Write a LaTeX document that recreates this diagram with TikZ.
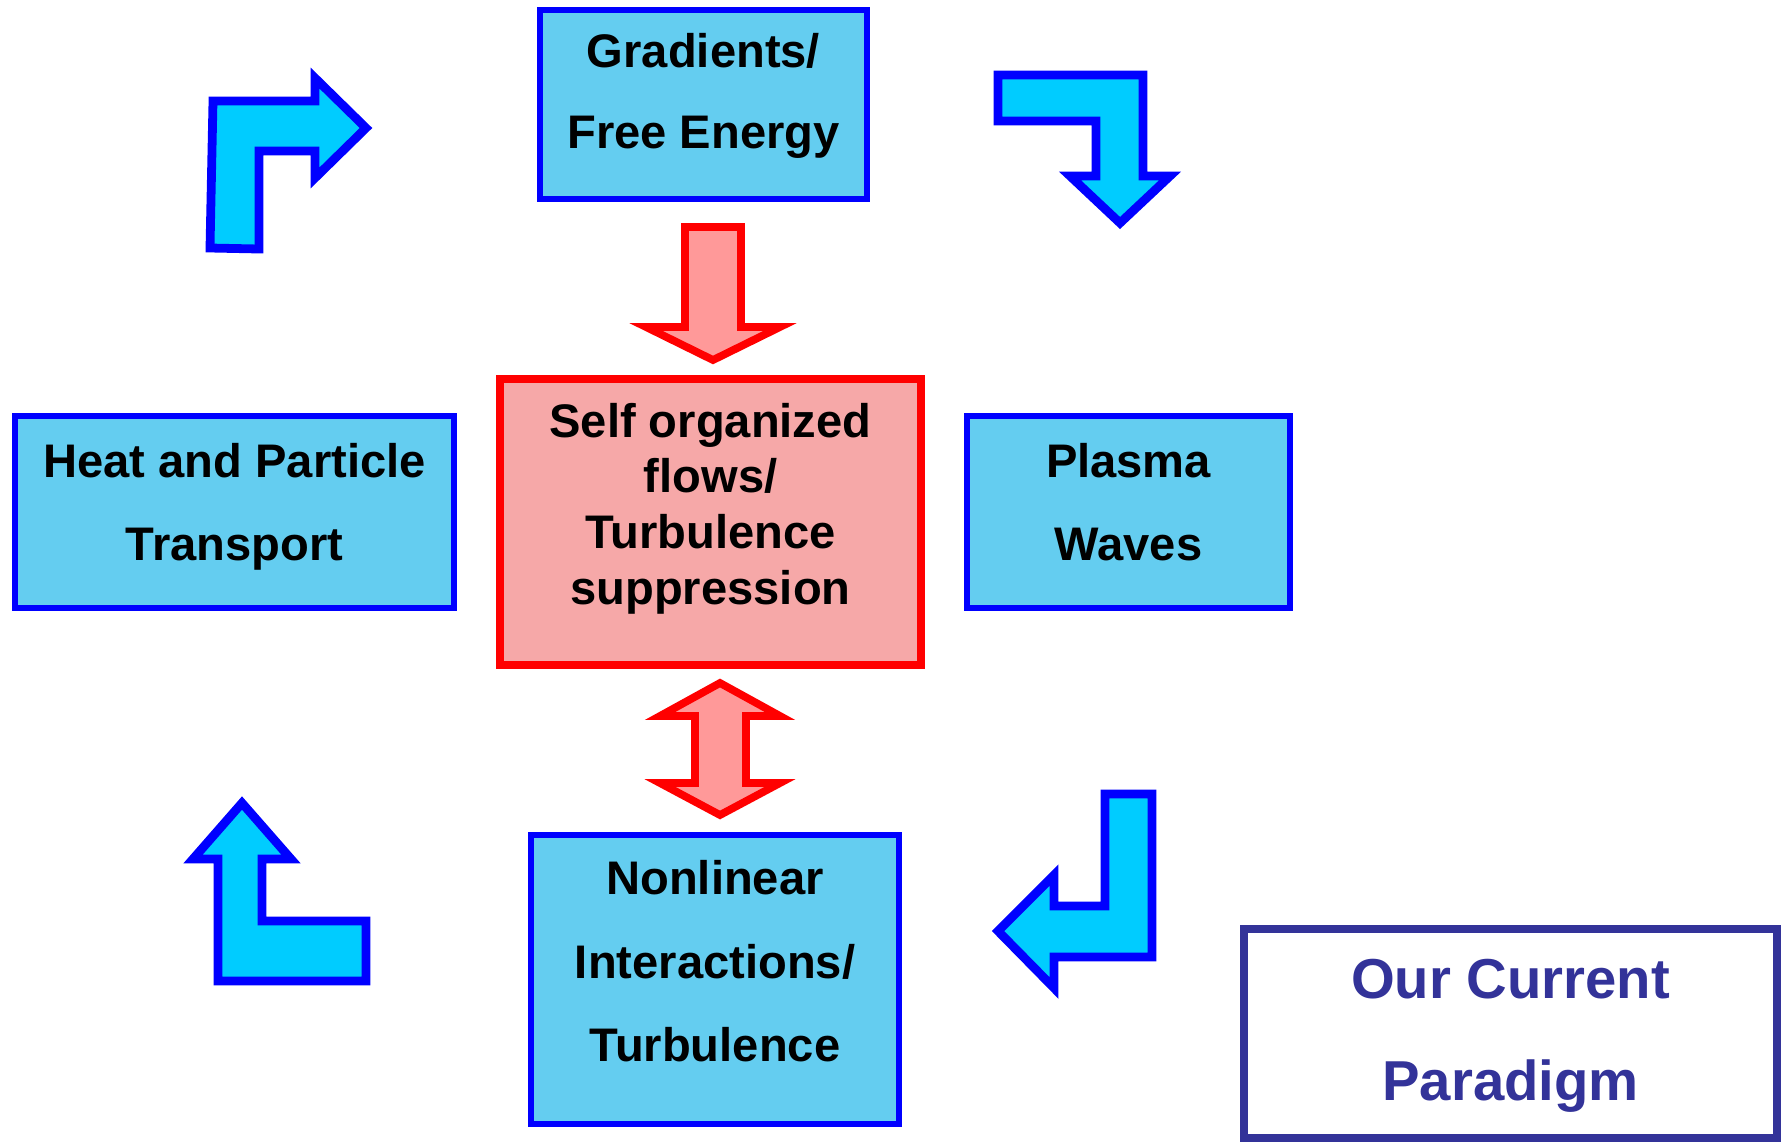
\documentclass[tikz,border=0pt]{standalone}
\usepackage{fontspec}
\setmainfont{Liberation Sans}
\definecolor{boxblue}{RGB}{0,0,255}
\definecolor{boxfill}{RGB}{100,205,240}
\definecolor{redfill}{RGB}{246,168,168}
\definecolor{arrowcyan}{RGB}{0,204,255}
\definecolor{arrowpink}{RGB}{255,153,153}
\definecolor{navy}{RGB}{51,51,153}
\begin{document}
\begin{tikzpicture}[x=0.01cm,y=-0.01cm,
  bluebox/.style={draw=boxblue,line width=1.9pt,fill=boxfill,inner sep=0pt},
  redbox/.style={draw=red,line width=2.2pt,fill=redfill,inner sep=0pt},
  notebox/.style={draw=navy,line width=2.2pt,fill=white,inner sep=0pt},
  lbl/.style={anchor=base,inner sep=0pt,font=\fontsize{13.4}{16}\selectfont\bfseries},
  notelbl/.style={anchor=base,inner sep=0pt,text=navy,font=\fontsize{16}{19}\selectfont\bfseries},
  bluearrow/.style={draw=boxblue,line width=2.5pt,fill=arrowcyan,line join=miter},
  redarrow/.style={draw=red,line width=2.2pt,fill=arrowpink,line join=miter}]
\useasboundingbox (0,0) rectangle (1783,1142);

% boxes
\node[bluebox,minimum width=3.27cm,minimum height=1.89cm] (grad) at (703.5,104.5) {};
\node[bluebox,minimum width=4.39cm,minimum height=1.92cm] (heat) at (234.5,512) {};
\node[bluebox,minimum width=3.23cm,minimum height=1.92cm] (plasma) at (1128.5,512) {};
\node[redbox,minimum width=4.21cm,minimum height=2.86cm] (self) at (710.5,522) {};
\node[bluebox,minimum width=3.68cm,minimum height=2.89cm] (nonlin) at (715,979.5) {};
\node[notebox,minimum width=5.33cm,minimum height=2.09cm] (note) at (1510.5,1033.5) {};

% texts
\node[lbl] (grad1) at (703.5,67) {Gradients/};
\node[lbl] (grad2) at (703.5,148) {Free Energy};
\node[lbl] (heat1) at (234.5,477) {Heat and Particle};
\node[lbl] (heat2) at (234.5,560) {Transport};
\node[lbl] (plasma1) at (1128.5,477) {Plasma};
\node[lbl] (plasma2) at (1128.5,560) {Waves};
\node[lbl] (self1) at (710.5,437) {Self organized};
\node[lbl] (self2) at (710.5,492) {flows/};
\node[lbl] (self3) at (710.5,548) {Turbulence};
\node[lbl] (self4) at (710.5,604) {suppression};
\node[lbl] (nonlin1) at (715,894) {Nonlinear};
\node[lbl] (nonlin2) at (715,978) {Interactions/};
\node[lbl] (nonlin3) at (715,1061) {Turbulence};
\node[notelbl] (note1) at (1510.5,998) {Our Current};
\node[notelbl] (note2) at (1510.5,1100) {Paradigm};

% red block arrows
\draw[redarrow] (685,227) -- (741,227) -- (741,327) -- (780,327) -- (713,360)
  -- (646,327) -- (685,327) -- cycle;
\draw[redarrow] (720,683) -- (780,716) -- (746,716) -- (746,783) -- (780,783)
  -- (720,815) -- (660,783) -- (695,783) -- (695,716) -- (660,716) -- cycle;

% blue bent arrows (cycle)
\draw[bluearrow] (210,248) -- (213,101) -- (315,101) -- (315,78) -- (366,128)
  -- (315,178) -- (315,151) -- (259,151) -- (259,249) -- cycle;
\draw[bluearrow] (998,75) -- (1143,75) -- (1143,176) -- (1170,176) -- (1120,223)
  -- (1070,176) -- (1096,176) -- (1096,121) -- (998,121) -- cycle;
\draw[bluearrow] (1105,794) -- (1152,794) -- (1152,957) -- (1054,957) -- (1054,988)
  -- (998,931) -- (1054,875) -- (1054,906) -- (1105,906) -- cycle;
\draw[bluearrow] (366,981) -- (218,981) -- (218,859) -- (193,859) -- (242,803)
  -- (291,859) -- (262,859) -- (262,921) -- (366,921) -- cycle;
\end{tikzpicture}
\end{document}
